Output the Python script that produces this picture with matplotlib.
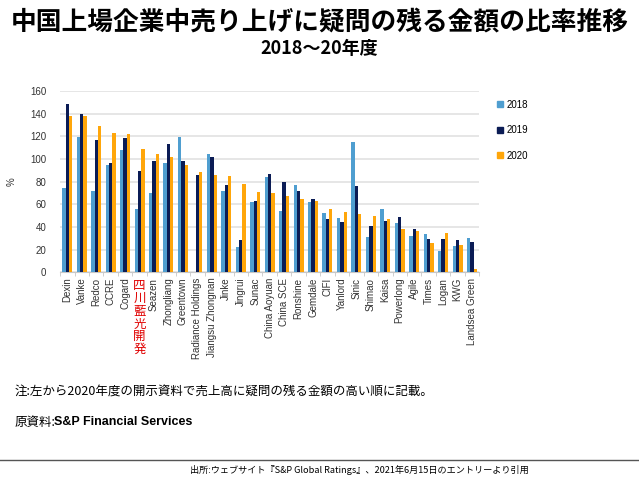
import matplotlib
matplotlib.use("Agg")
import matplotlib.pyplot as plt
from matplotlib.lines import Line2D
from matplotlib.transforms import blended_transform_factory
import numpy as np

plt.rcParams["font.family"] = ["Liberation Sans", "Noto Sans CJK JP"]

# 企業名（左から2020年度の高い順）
companies = ["Dexin", "Vanke", "Redco", "CCRE", "Cogard", "四川藍光開発", "Seazen",
             "Zhongliang", "Greentown", "Radiance Holdings", "Jiangsu Zhongnan",
             "Jinke", "Jingrui", "Sunac", "China Aoyuan", "China SCE", "Ronshine",
             "Gemdale", "CIFI", "Yanlord", "Sinic", "Shimao", "Kaisa", "Powerlong",
             "Agile", "Times", "Logan", "KWG", "Landsea Green"]
v2018 = [74, 119, 72, 95, 108, 56, 70, 96, 119, np.nan, 104, 72, 22, 62, 84, 54, 77,
         62, 52, 48, 115, 31, 56, 43, 32, 34, 19, 23, 30]
v2019 = [148, 140, 117, 96, 118, 89, 98, 113, 98, 86, 102, 77, 28, 63, 87, 80, 72,
         65, 47, 44, 76, 41, 45, 49, 38, 29, 29, 28, 27]
v2020 = [138, 138, 129, 123, 122, 109, 104, 102, 95, 88, 86, 85, 78, 71, 70, 67, 65,
         63, 56, 53, 51, 50, 47, 38, 36, 26, 35, 24, 3]
years = ["2018", "2019", "2020"]
colors = ["#4F9ED0", "#0B1C55", "#FFA60A"]
red_idx = 5  # 赤字・縦書きで表示する企業

fig = plt.figure(figsize=(6.39, 4.86), dpi=100)
ax = fig.add_axes([0.094, 0.44, 0.656, 0.373])

x = np.arange(len(companies))
w = 0.23
for i, (vals, c) in enumerate(zip([v2018, v2019, v2020], colors)):
    ax.bar(x + (i - 1) * w, vals, width=w, color=c, zorder=3)

ax.set_xlim(-0.5, len(companies) - 0.5)
ax.set_ylim(0, 160)
ax.set_yticks(range(0, 161, 20))
ax.yaxis.grid(True, color="#E6E6E6", linewidth=1.4, zorder=0)
for s in ["top", "right", "left"]:
    ax.spines[s].set_visible(False)
ax.spines["bottom"].set_color("#C8C8C8")
ax.tick_params(axis="y", length=0, labelsize=7, colors="#333333", pad=10)
ax.set_xticks(x)
ax.set_xticks(np.arange(-0.5, len(companies), 1), minor=True)
ax.tick_params(axis="x", which="major", length=0, pad=4)
ax.tick_params(axis="x", which="minor", length=3, color="#C8C8C8")
ticklabels = ["" if i == red_idx else n for i, n in enumerate(companies)]
ax.set_xticklabels(ticklabels, rotation=90, fontsize=7, color="#333333", va="top")

# 四川藍光開発 は赤字の縦書き
tr = blended_transform_factory(ax.transData, ax.transAxes)
ax.text(x[red_idx], -0.04, "\n".join(companies[red_idx]), transform=tr,
        ha="center", va="top", fontsize=9, color="#E00000", linespacing=0.97,
        family=["Noto Sans CJK JP"])

ax.text(-0.115, 0.5, "%", transform=ax.transAxes, rotation=90, fontsize=7,
        ha="center", va="center", color="#333333")

handles = [Line2D([], [], marker="s", linestyle="none", markersize=4, color=c) for c in colors]
ax.legend(handles, years, loc="upper left", bbox_to_anchor=(1.02, 1.0), frameon=False,
          fontsize=7, labelspacing=1.6, handletextpad=0.2, handlelength=0.8)

fig.text(0.5, 0.955, "中国上場企業中売り上げに疑問の残る金額の比率推移",
         ha="center", va="center", fontsize=18.5, fontweight="bold",
         family=["Noto Sans CJK JP"])
fig.text(0.5, 0.9, "2018〜20年度", ha="center", va="center", fontsize=13,
         fontweight="bold", family=["Noto Sans CJK JP"])

fig.text(0.022, 0.193, "注:左から2020年度の開示資料で売上高に疑問の残る金額の高い順に記載。",
         ha="left", va="center", fontsize=9, family=["Noto Sans CJK JP"])
fig.text(0.022, 0.131, "原資料:", ha="left", va="center", fontsize=9,
         family=["Noto Sans CJK JP"])
fig.text(0.085, 0.131, "S&P Financial Services", ha="left", va="center", fontsize=9,
         fontweight="bold")

fig.add_artist(Line2D([0.0, 1.0], [0.054, 0.054], color="#555555", linewidth=1))
fig.text(0.297, 0.033, "出所:ウェブサイト『S&P Global Ratings』、2021年6月15日のエントリーより引用",
         ha="left", va="center", fontsize=6.6, family=["Noto Sans CJK JP"])

fig.savefig("out.png", dpi=100)
